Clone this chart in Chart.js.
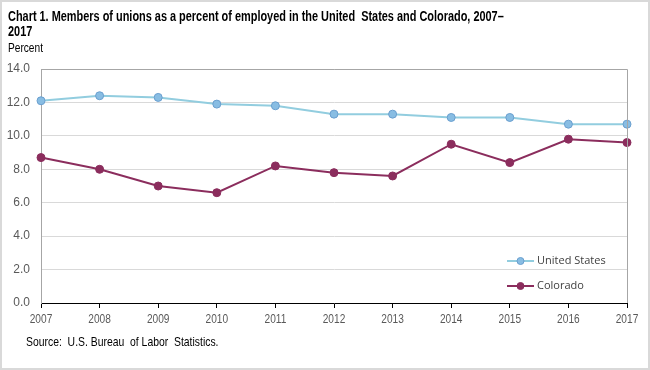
<!DOCTYPE html>
<html><head><meta charset="utf-8">
<script src="https://cdn.jsdelivr.net/npm/chart.js@4"></script>
<style>
html,body{margin:0;padding:0;background:#fff;}
#wrap{position:relative;width:650px;height:370px;overflow:hidden;}
#frame{position:absolute;left:0;top:0;width:646px;height:366px;border:2px solid #d9d9d9;pointer-events:none;}
canvas{position:absolute;left:0;top:0;}
.t{position:absolute;font-family:"Liberation Sans",Arial,sans-serif;color:#000;white-space:nowrap;transform-origin:0 0;}
#title{left:8px;top:9px;font-size:14px;font-weight:bold;line-height:15px;transform:scaleX(0.78);}
#unit{left:8px;top:40px;font-size:13px;transform:scaleX(0.78);}
#source{left:26px;top:334px;font-size:13px;transform:scaleX(0.8);}
</style></head>
<body><div id="wrap">
<canvas id="c" width="650" height="370"></canvas>
<div class="t" id="title">Chart 1. Members of unions as a percent of employed in the United&nbsp; States and Colorado, 2007–<br>2017</div>
<div class="t" id="unit">Percent</div>
<div class="t" id="source">Source:&nbsp; U.S. Bureau&nbsp; of Labor&nbsp; Statistics.</div>
<div id="frame"></div>
</div>
<script>
const years = ['2007','2008','2009','2010','2011','2012','2013','2014','2015','2016','2017'];
const unitedStates = [12.1, 12.4, 12.3, 11.9, 11.8, 11.3, 11.3, 11.1, 11.1, 10.7, 10.7];
const colorado = [8.7, 8.0, 7.0, 6.6, 8.2, 7.8, 7.6, 9.5, 8.4, 9.8, 9.6];
const seriesNames = ['United States', 'Colorado'];

const usLine = '#92cddf', usPoint = '#88bde3', usPointBorder = '#6a9fcf';
const coLine = '#8b2d5d', coPoint = '#8b2d5d';

const framePlugin = {
  id: 'frame',
  afterDatasetsDraw(chart) {
    const {ctx, chartArea: a} = chart;
    ctx.save();
    ctx.strokeStyle = '#a6a6a6';
    ctx.lineWidth = 1;
    ctx.beginPath();
    ctx.moveTo(a.left, a.top + 0.5);
    ctx.lineTo(a.right + 0.5, a.top + 0.5);
    ctx.lineTo(a.right + 0.5, a.bottom);
    ctx.stroke();
    ctx.restore();
  },
  afterDraw(chart) {
    const {ctx, chartArea: a} = chart;
    ctx.save();
    // x tick labels (condensed)
    const xs = chart.scales.x;
    ctx.fillStyle = '#595959';
    ctx.font = '13px "Liberation Sans", Arial, sans-serif';
    ctx.textBaseline = 'middle';
    ctx.textAlign = 'center';
    xs.ticks.forEach((t, i) => {
      const px = xs.getPixelForTick(i);
      ctx.save();
      ctx.translate(px, 319);
      ctx.scale(0.78, 1);
      ctx.fillText(xs.getLabelForValue(t.value), 0, 0);
      ctx.restore();
    });
    // legend
    const items = chart.data.datasets;
    const ys = [261, 286];
    items.forEach((ds, i) => {
      const y = ys[i];
      const x0 = 507, x1 = 534;
      ctx.strokeStyle = ds.borderColor;
      ctx.lineWidth = 2;
      ctx.beginPath(); ctx.moveTo(x0, y); ctx.lineTo(x1, y); ctx.stroke();
      ctx.fillStyle = ds.pointBackgroundColor;
      ctx.strokeStyle = ds.pointBorderColor;
      ctx.lineWidth = 1;
      ctx.beginPath(); ctx.arc((x0 + x1) / 2, y, 3.5, 0, Math.PI * 2); ctx.fill(); ctx.stroke();
      ctx.fillStyle = '#404040';
      ctx.font = '11px "Open Sans", sans-serif';
      ctx.textBaseline = 'middle';
      ctx.textAlign = 'left';
      ctx.fillText(ds.label, 537, y);
    });
    ctx.restore();
  }
};

new Chart(document.getElementById('c'), {
  type: 'line',
  data: {
    labels: years,
    datasets: [
      {label: seriesNames[0], data: unitedStates, borderColor: usLine, borderWidth: 2,
       pointBackgroundColor: usPoint, pointBorderColor: usPointBorder, pointBorderWidth: 1, pointRadius: 4, tension: 0},
      {label: seriesNames[1], data: colorado, borderColor: coLine, borderWidth: 2,
       pointBackgroundColor: coPoint, pointBorderColor: coPoint, pointBorderWidth: 1, pointRadius: 4, tension: 0}
    ]
  },
  options: {
    responsive: false,
    animation: false,
    devicePixelRatio: 1,
    layout: {padding: {left: 0, right: 23, top: 69, bottom: 42}},
    plugins: {legend: {display: false}, tooltip: {enabled: false}, title: {display: false}},
    scales: {
      x: {
        offset: false,
        grid: {display: true, drawOnChartArea: false, drawTicks: true, tickLength: 5, color: '#000'},
        border: {display: true, color: '#000', width: 1},
        ticks: {color: 'rgba(0,0,0,0)', font: {family: '"Liberation Sans", Arial', size: 11}, padding: 3, maxRotation: 0, autoSkip: false},
        afterFit(s) { s.height = 25; }
      },
      y: {
        min: 0, max: 14,
        grid: {color: '#d9d9d9', drawTicks: false, lineWidth: 1},
        border: {display: true, color: '#a6a6a6'},
        ticks: {stepSize: 2, color: '#595959', padding: 11,
          font: {family: '"Liberation Sans", Arial', size: 12},
          callback: v => v.toFixed(1)},
        afterFit(s) { s.width = 41; }
      }
    }
  },
  plugins: [framePlugin]
});
</script>
</body></html>
